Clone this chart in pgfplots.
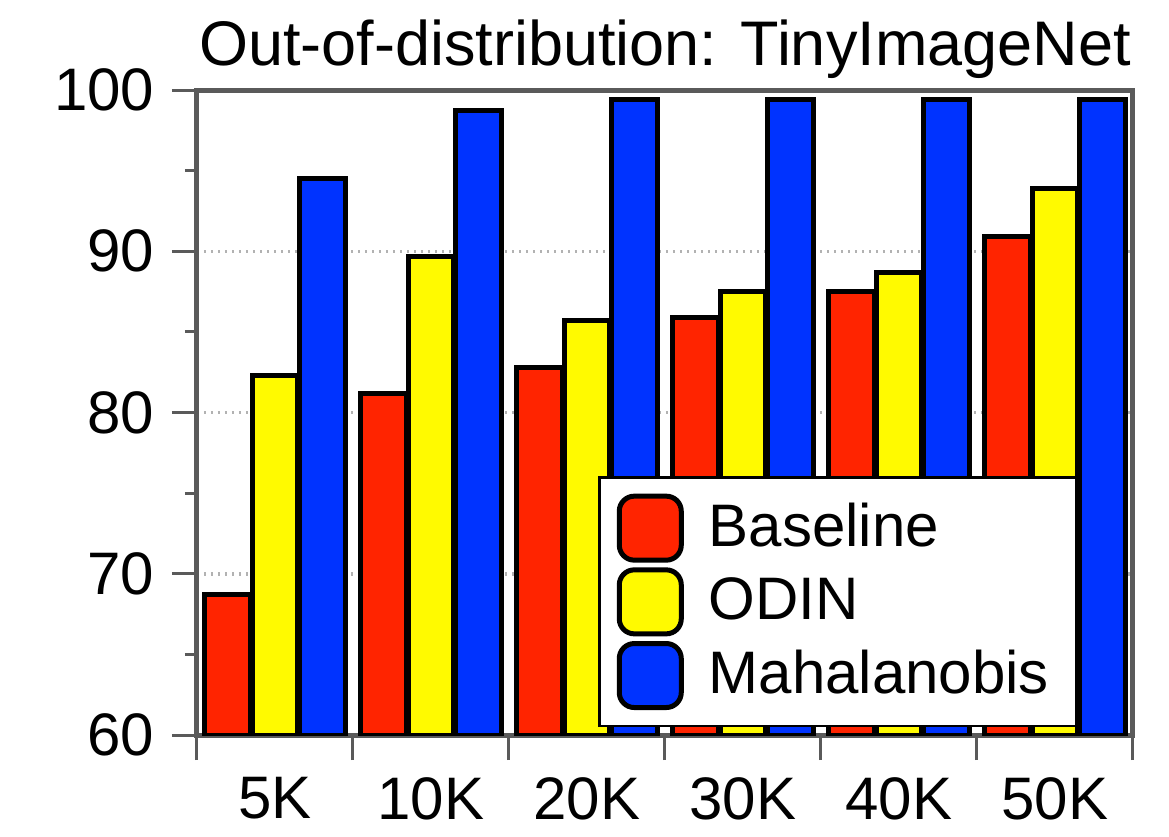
\documentclass[border=0pt]{standalone}
\usepackage{pgfplots}
\pgfplotsset{compat=1.18}
\usepackage{fontspec}
\setmainfont{Liberation Sans}
\definecolor{cred}{RGB}{255,36,0}
\definecolor{cyel}{RGB}{255,250,0}
\definecolor{cblue}{RGB}{0,51,255}
\definecolor{axgray}{RGB}{90,90,90}
\pgfplotstableread{
x base odin maha
0 68.7 82.3 94.5
1 81.2 89.7 98.7
2 82.8 85.7 99.4
3 85.9 87.5 99.4
4 87.5 88.7 99.4
5 90.9 93.9 99.4
}\datatable
\begin{document}
\begin{tikzpicture}
\begin{axis}[
  scale only axis,
  width=187.2pt, height=129pt,
  ybar, bar width=0.29,
  xmin=-0.5, xmax=5.5,
  ymin=60, ymax=100,
  xtick={-0.5,0.5,...,5.5},
  x tick label as interval,
  xticklabels={5K,10K,20K,30K,40K,50K},
  ytick={60,70,...,100},
  minor ytick={65,75,85,95},
  tick pos=left,
  tick align=outside,
  major tick length=5pt,
  minor tick length=2.4pt,
  every tick/.style={axgray, line width=0.6pt},
  axis line style={axgray, line width=1pt},
  ymajorgrids,
  major grid style={gray!60, densely dotted, line width=0.7pt},
  /pgf/number format/assume math mode=true,
  tick label style={font=\fontsize{12}{14}\selectfont},
  title={Out-of-distribution: TinyImageNet},
  title style={at={(0.5,1)}, anchor=base, yshift=-1pt, font=\fontsize{12.6}{15}\selectfont},
  legend style={at={(0.941,0.012)}, anchor=south east, draw=black, line width=0.5pt,
    fill=white, font=\fontsize{12}{14}\selectfont, inner xsep=3.5pt, inner ysep=3pt,
    row sep=0.7pt},
  legend cell align=left,
  legend image code/.code={\draw[#1, line width=1pt, rounded corners=3pt] (-1pt,-6.4pt) rectangle (11.4pt,6.4pt);},
]
\addplot[fill=cred, draw=black, line width=1pt, bar shift=-0.305] table[x=x,y=base] {\datatable};
\addplot[fill=cyel, draw=black, line width=1pt, bar shift=0] table[x=x,y=odin] {\datatable};
\addplot[fill=cblue, draw=black, line width=1pt, bar shift=0.305] table[x=x,y=maha] {\datatable};
\legend{\hspace{3pt}Baseline,\hspace{3pt}ODIN,\hspace{3pt}Mahalanobis}
\end{axis}
\path (current axis.south west) ++(-39.4pt,-17.6pt) rectangle ++(233.8pt,164.6pt);
\end{tikzpicture}
\end{document}
